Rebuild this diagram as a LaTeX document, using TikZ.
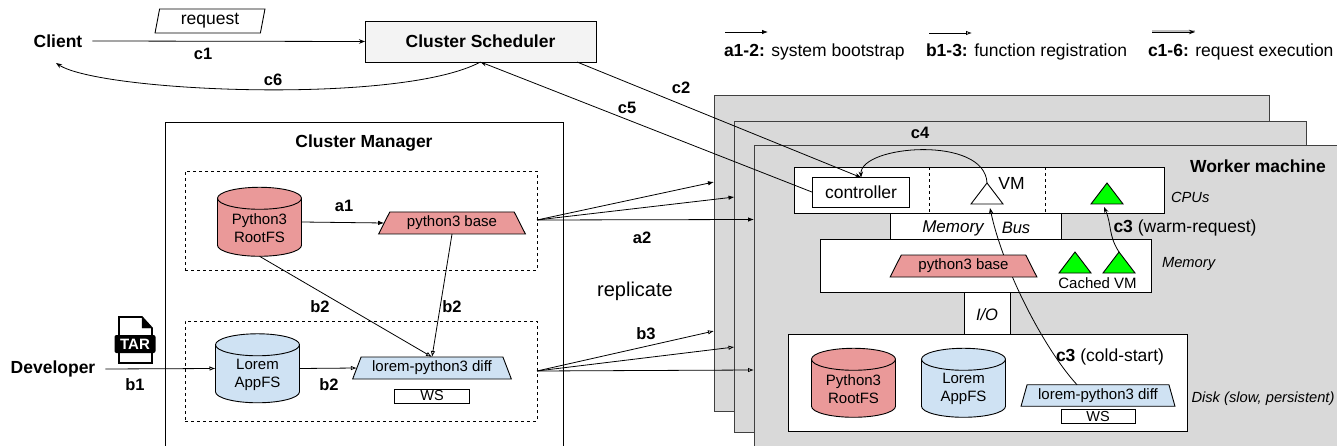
\documentclass[tikz,border=0pt]{standalone}
\usepackage{fontspec}
\setmainfont{Liberation Sans}
\usetikzlibrary{shapes.geometric, arrows.meta, calc}
\definecolor{pyred}{HTML}{EA9999}
\definecolor{loremblue}{HTML}{CFE2F3}
\definecolor{machgray}{HTML}{D9D9D9}
\definecolor{schedgray}{HTML}{F3F3F3}
\newcommand{\cyltext}[2]{\parbox[c][20pt][c]{40pt}{\vspace{1pt}\centering\makebox[0pt]{#1}\\\makebox[0pt]{#2}\par}}
\tikzset{
    every node/.style={inner sep=0pt, outer sep=0pt, align=center, font=\fontsize{17.5}{20}\selectfont},
    hw/.style 2 args={minimum width=#1pt, minimum height=#2pt, anchor=north west},
    boxed/.style={draw=black, fill=white, line width=0.9pt},
    machine/.style={draw=black!75, fill=machgray, line width=1pt},
    lbl/.style={font=\fontsize{17.5}{20}\selectfont\bfseries},
    flowlbl/.style={font=\fontsize{16.5}{20}\selectfont\bfseries},
    tag/.style={font=\fontsize{14.7}{17}\selectfont\itshape},
    small/.style={font=\fontsize{15}{17}\selectfont},
    store/.style={cylinder, shape border rotate=90, aspect=0.55, draw=black, line width=0.9pt,
        minimum width=84pt, minimum height=69pt, font=\fontsize{15}{18}\selectfont},
    image/.style={trapezium, trapezium stretches=true, draw=black, line width=0.9pt, font=\fontsize{15}{17}\selectfont},
    vm/.style={isosceles triangle, isosceles triangle stretches=true, shape border rotate=90,
        draw=black, line width=0.9pt, minimum width=32pt, minimum height=21pt},
    boot/.style={-{Latex[length=6pt,width=4.5pt]}, line width=0.8pt},
    reg/.style={-{Latex[open,length=6pt,width=4.5pt]}, line width=0.8pt},
    exec/.style={-{Stealth[length=6pt,width=4.5pt]}, line width=0.8pt}
}
\begin{document}
\begin{tikzpicture}[x=1pt, y=-1pt]
        \useasboundingbox (0,0) rectangle (1337,446);
        \clip (0,0) rectangle (1337,446);

        % Worker machines
        \node[machine, hw={555}{315}] (machA) at (714,96) {};
        \node[machine, hw={572}{310}] (machB) at (734.5,122) {};
        \node[machine, hw={640}{340}] (machC) at (754,146) {};
        \node[lbl] (worker) at (1258,166) {Worker machine};

        % Scheduler and client
        \node[lbl] (client) at (58,41) {Client};
        \node[boxed, fill=schedgray, hw={231}{41}] (sched) at (365,21) {\bfseries Cluster Scheduler};
        \node[trapezium, trapezium left angle=80, trapezium right angle=100, draw=black, line width=0.9pt,
            trapezium stretches=true, minimum width=110pt, minimum height=24pt] (request) at (210,21) {request};
        \node[flowlbl] (cone) at (203,54) {c1};
        \node[flowlbl] (csix) at (273,80) {c6};
        \node[flowlbl] (cfive) at (627,108) {c5};
        \node[flowlbl] (ctwo) at (681,88) {c2};
        \node[flowlbl] (cfour) at (920,133) {c4};

        % Cluster manager
        \node[boxed, hw={398}{360}] (manager) at (165,122) {};
        \node[lbl] (managerlbl) at (364,143) {Cluster Manager};
        \node[draw=black, dashed, line width=0.8pt, hw={352}{99}] (groupA) at (185,171) {};
        \node[draw=black, dashed, line width=0.8pt, hw={352}{100}] (groupB) at (185,321) {};
        \node[store, fill=pyred] (rootfs) at (259.5,227.5) {\cyltext{Python3}{RootFS}};
        \node[image, fill=pyred, trapezium left angle=60, trapezium right angle=60,
            minimum width=147pt, minimum height=22pt] (pybase) at (452,223) {python3 base};
        \node[store, fill=loremblue] (appfs) at (257.5,374) {\cyltext{Lorem}{AppFS}};
        \node[image, fill=loremblue, trapezium left angle=63, trapezium right angle=63,
            minimum width=159pt, minimum height=22pt] (diff) at (432,368) {lorem-python3 diff};
        \node[boxed, hw={75}{14}, font=\fontsize{14.5}{14}\selectfont] (ws) at (394.5,389) {WS};
        \node[flowlbl] (aone) at (344,206) {a1};
        \node[flowlbl] (atwo) at (642,238) {a2};
        \node[flowlbl] (bleft) at (320,307) {b2};
        \node[flowlbl] (bright) at (452,307) {b2};
        \node[flowlbl] (blow) at (329,385) {b2};
        \node[flowlbl] (bone) at (135,385) {b1};
        \node[flowlbl] (bthree) at (646,334) {b3};
        \node[font=\fontsize{20}{22}\selectfont] (replicate) at (635,291) {replicate};

        % Developer and tar icon
        \node[lbl] (developer) at (53,369) {Developer};
        \draw[fill=white, line width=1.6pt] (119,317) -- (142,317) -- (152,328) -- (152,363) -- (119,363) -- cycle;
        \draw[fill=black] (142,317) -- (152,328) -- (142,328) -- cycle;
        \node[fill=black, rounded corners=2pt, minimum width=41pt, minimum height=18pt, text=white,
            font=\fontsize{15}{15}\selectfont\bfseries] (tar) at (135,344) {TAR};

        % Legend
        \coordinate (legaS) at (725,32);
        \coordinate (legaE) at (768,32);
        \coordinate (legbS) at (929,33);
        \coordinate (legbE) at (972,33);
        \coordinate (legcS) at (1152,32);
        \coordinate (legcE) at (1195,32);
        \node[anchor=west] (lega) at (724,52) {\textbf{a1-2:} system bootstrap};
        \node[anchor=west] (legb) at (926,52) {\textbf{b1-3:} function registration};
        \node[anchor=west] (legc) at (1148,52) {\textbf{c1-6:} request execution};
        \draw[boot] (legaS) -- (legaE);
        \draw[reg] (legbS) -- (legbE);
        \draw[black!25, line width=1.5pt] ([yshift=1pt]legcS) -- ([yshift=1pt]legcE);
        \draw[exec] (legcS) -- (legcE);

        % CPUs
        \node[boxed, hw={171}{26.5}] (bus) at (890,213) {};
        \node[boxed, hw={369.5}{45.5}] (cpus) at (794.5,167.5) {};
        \node[boxed, hw={97}{29.5}] (controller) at (812.5,177.5) {controller};
        \draw[dashed, line width=0.8pt] (cpus.north west -| 929,0) -- (cpus.south west -| 929,0);
        \draw[dashed, line width=0.8pt] (cpus.north west -| 1045,0) -- (cpus.south west -| 1045,0);
        \node[vm, fill=white, anchor=apex] (vmA) at (987,183) {};
        \node (vmlbl) at (1011.5,183) {VM};
        \node[vm, fill=green, anchor=apex] (vmB) at (1107,183) {};
        \node[tag, anchor=west] (cpulbl) at (1171,197) {CPUs};
        \node[tag, font=\fontsize{17}{20}\selectfont\itshape] (memlbl) at (953,228) {Memory};
        \node[tag, font=\fontsize{16.5}{20}\selectfont\itshape] (buslbl) at (1016,228) {Bus};

        % Memory, I/O and disk
        \node[boxed, hw={46}{43}] (io) at (964,292) {};
        \node[tag, font=\fontsize{16.5}{20}\selectfont\itshape] (iolbl) at (987,315) {I/O};
        \node[boxed, hw={331.5}{52.5}] (memory) at (820,239.5) {};
        \node[boxed, hw={398.5}{97}] (disk) at (788.5,334.5) {};
        \node[tag, anchor=west] (memorylbl) at (1162,264) {Memory};
        \node[tag, anchor=west] (disklbl) at (1191.5,399) {Disk (slow, persistent)};

        % Cold-start path runs under the memory image
        \node[image, fill=loremblue, trapezium left angle=70, trapezium right angle=70,
            minimum width=154pt, minimum height=21.5pt] (diffB) at (1098,395.5) {lorem-python3 diff};
        \node[boxed, hw={74}{14.5}, font=\fontsize{14.5}{14}\selectfont] (wsB) at (1061,409) {WS};
        \draw[exec] (diffB.north) ++(-21,0) coordinate (coldS)
            .. controls (1045,350) and (1003,270) .. (990,208);
        \node[image, fill=pyred, trapezium left angle=60, trapezium right angle=60,
            minimum width=147pt, minimum height=22pt] (pybaseB) at (963.5,266) {python3 base};
        \node[vm, fill=green, anchor=apex] (cacheA) at (1075,252) {};
        \node[vm, fill=green, anchor=apex] (cacheB) at (1119,252) {};
        \node[small] (cachedlbl) at (1097.5,283) {Cached VM};
        \node[store, fill=pyred] (rootfsB) at (853.5,388.5) {\cyltext{Python3}{RootFS}};
        \node[store, fill=loremblue] (appfsB) at (963.5,388.5) {\cyltext{Lorem}{AppFS}};
        \node[anchor=west] (coldlbl) at (1056,357) {\textbf{c3} (cold-start)};
        \node[anchor=west] (warmlbl) at (1113.5,228) {\textbf{c3} (warm-request)};

        % Request execution
        \draw[exec] ([xshift=10pt]client.east) -- (sched.west);
        \draw[exec] (sched.south) .. controls (400,105) and (100,92) .. (56,63);
        \coordinate (ctwoS) at (577,62);
        \draw[exec] (ctwoS) -- (controller.north);
        \draw[exec] (controller.west) -- (sched.south);
        \draw[exec] (vmA.apex) .. controls (985,135) and (860,145) .. (controller.north);
        \draw[exec] (cacheB.apex) .. controls (1108,235) and (1112,225) .. (1104,207);

        % System bootstrap
        \coordinate (aout) at (537,220);
        \coordinate (atoA) at (714,182);
        \coordinate (atoB) at (734.5,197);
        \coordinate (atoC) at (754,219.5);
        \draw[boot] ([yshift=5.5pt]rootfs.east) -- (pybase.west);
        \draw[boot] (aout) -- (atoA);
        \draw[boot] (aout) -- (atoB);
        \draw[boot] (aout) -- (atoC);

        % Function registration
        \coordinate (bout) at (537,371);
        \coordinate (btoA) at (714,331);
        \coordinate (btoB) at (734.5,347);
        \coordinate (btoC) at (754,370);
        \draw[reg] ([xshift=10pt]developer.east) -- ([yshift=5.5pt]appfs.west);
        \draw[reg] ([yshift=5.5pt]appfs.east) -- (diff.west);
        \draw[reg] (rootfs.south) -- (diff.north);
        \draw[reg] (pybase.south) -- (diff.north);
        \draw[reg] (bout) -- (btoA);
        \draw[reg] (bout) -- (btoB);
        \draw[reg] (bout) -- (btoC);
    \end{tikzpicture}
\end{document}
